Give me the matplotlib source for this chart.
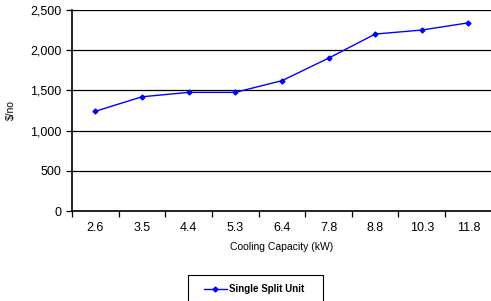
import numpy as np
import matplotlib.pyplot as plt
from matplotlib.patches import Rectangle

plt.rcParams['font.family'] = ['Liberation Sans', 'DejaVu Sans']

# Datos
capacity = ['2.6', '3.5', '4.4', '5.3', '6.4', '7.8', '8.8', '10.3', '11.8']
cost = [1240, 1420, 1475, 1475, 1620, 1900, 2200, 2250, 2340]

fig = plt.figure(figsize=(4.91, 3.01), dpi=100)
ax = fig.add_axes([0.1466, 0.299, 0.855, 0.668])

x = np.arange(len(capacity))
ax.plot(x, cost, color='blue', marker='D', markersize=2.5, linewidth=1,
        label='Single Split Unit')

ax.set_xlim(-0.5, len(capacity) - 0.5)
ax.set_ylim(0, 2500)
ax.set_yticks(np.arange(0, 2501, 500))
ax.set_yticklabels([f'{v:,}' for v in range(0, 2501, 500)], fontsize=9)
ax.yaxis.grid(True, color='black', linewidth=0.9)
ax.set_axisbelow(True)

ax.set_xticks(x)
ax.set_xticklabels(capacity, fontsize=9)
ax.tick_params(axis='x', length=0, pad=8)
ax.set_xticks(np.arange(-0.5, len(capacity)), minor=True)
ax.tick_params(axis='x', which='minor', length=4, width=0.9, direction='out')
ax.tick_params(axis='y', length=4, width=0.9, direction='out')

for s in ['top', 'right']:
    ax.spines[s].set_visible(False)
for s in ['left', 'bottom']:
    ax.spines[s].set_color('black')
    ax.spines[s].set_linewidth(1.2)

ax.set_xlabel('Cooling Capacity (kW)', fontsize=7.5, labelpad=6)
ax.set_ylabel('$/no', fontsize=7.5, labelpad=10)

# leyenda sin marco, y caja dibujada aparte
fig.legend(loc='center', bbox_to_anchor=(0.517, 0.040),
           prop={'size': 7, 'weight': 'bold'}, frameon=False,
           handlelength=2.4, handletextpad=0.15, borderaxespad=0)
fig.patches.append(Rectangle((0.383, -0.05), 0.275, 0.136,
                             transform=fig.transFigure, fill=False,
                             edgecolor='black', linewidth=0.8))

plt.savefig('out.png', dpi=100)
